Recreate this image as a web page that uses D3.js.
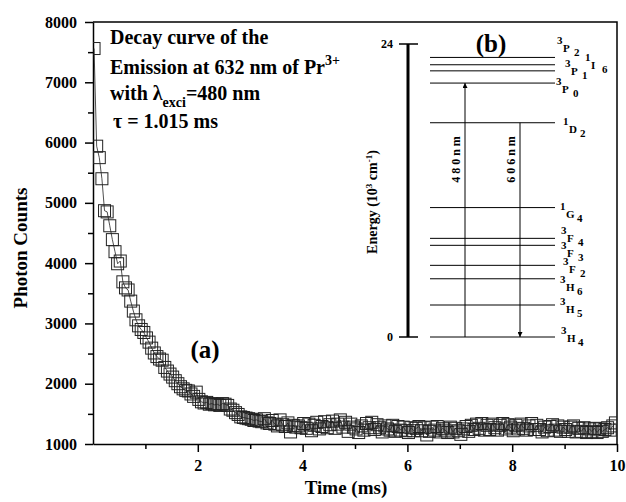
<!DOCTYPE html>
<html>
<head>
<meta charset="utf-8">
<script src="https://cdn.jsdelivr.net/npm/d3@7"></script>
<style>
    body { margin: 0; background: #fff; }
    svg { display: block; font-family: 'Liberation Serif', 'Times New Roman', serif; font-weight: bold; }
</style>
</head>
<body>
<svg id="chart"></svg>
<script>
// decay curve, one point every 0.05 ms
const timeMs = [
    0.02, 0.07, 0.12, 0.17, 0.22, 0.27, 0.32, 0.37, 0.42, 0.47,
    0.52, 0.57, 0.62, 0.67, 0.72, 0.77, 0.82, 0.87, 0.92, 0.97,
    1.02, 1.07, 1.12, 1.17, 1.22, 1.27, 1.32, 1.37, 1.42, 1.47,
    1.52, 1.57, 1.62, 1.67, 1.72, 1.77, 1.82, 1.87, 1.92, 1.97,
    2.02, 2.07, 2.12, 2.17, 2.22, 2.27, 2.32, 2.37, 2.42, 2.47,
    2.52, 2.57, 2.62, 2.67, 2.72, 2.77, 2.82, 2.87, 2.92, 2.97,
    3.02, 3.07, 3.12, 3.17, 3.22, 3.27, 3.32, 3.37, 3.42, 3.47,
    3.52, 3.57, 3.62, 3.67, 3.72, 3.77, 3.82, 3.87, 3.92, 3.97,
    4.02, 4.07, 4.12, 4.17, 4.22, 4.27, 4.32, 4.37, 4.42, 4.47,
    4.52, 4.57, 4.62, 4.67, 4.72, 4.77, 4.82, 4.87, 4.92, 4.97,
    5.02, 5.07, 5.12, 5.17, 5.22, 5.27, 5.32, 5.37, 5.42, 5.47,
    5.52, 5.57, 5.62, 5.67, 5.72, 5.77, 5.82, 5.87, 5.92, 5.97,
    6.02, 6.07, 6.12, 6.17, 6.22, 6.27, 6.32, 6.37, 6.42, 6.47,
    6.52, 6.57, 6.62, 6.67, 6.72, 6.77, 6.82, 6.87, 6.92, 6.97,
    7.02, 7.07, 7.12, 7.17, 7.22, 7.27, 7.32, 7.37, 7.42, 7.47,
    7.52, 7.57, 7.62, 7.67, 7.72, 7.77, 7.82, 7.87, 7.92, 7.97,
    8.02, 8.07, 8.12, 8.17, 8.22, 8.27, 8.32, 8.37, 8.42, 8.47,
    8.52, 8.57, 8.62, 8.67, 8.72, 8.77, 8.82, 8.87, 8.92, 8.97,
    9.02, 9.07, 9.12, 9.17, 9.22, 9.27, 9.32, 9.37, 9.42, 9.47,
    9.52, 9.57, 9.62, 9.67, 9.72, 9.77, 9.82, 9.87, 9.92, 9.97
]
const photonCounts = [
    7560, 5940, 5750, 5400, 4870, 4850, 4620, 4390, 4190, 3990,
    4035, 3690, 3590, 3555, 3370, 3205, 3060, 2960, 2900, 2850,
    2760, 2690, 2590, 2510, 2450, 2410, 2390, 2270, 2210, 2160,
    2110, 2050, 2000, 1950, 1915, 1890, 1880, 1830, 1790, 1860,
    1740, 1700, 1680, 1690, 1660, 1670, 1650, 1660, 1640, 1670,
    1660, 1640, 1580, 1560, 1520, 1490, 1450, 1440, 1430, 1420,
    1410, 1390, 1400, 1380, 1370, 1420, 1350, 1340, 1390, 1330,
    1300, 1400, 1320, 1290, 1350, 1200, 1310, 1280, 1300, 1270,
    1340, 1260, 1330, 1220, 1310, 1360, 1250, 1290, 1370, 1270,
    1320, 1380, 1260, 1330, 1400, 1280, 1360, 1210, 1330, 1280,
    1250, 1190, 1300, 1230, 1340, 1270, 1360, 1240, 1320, 1270,
    1200, 1300, 1250, 1230, 1310, 1210, 1290, 1230, 1280, 1220,
    1190, 1270, 1220, 1260, 1290, 1220, 1270, 1150, 1210, 1280,
    1230, 1290, 1200, 1260, 1230, 1190, 1280, 1200, 1260, 1220,
    1160, 1250, 1290, 1210, 1310, 1240, 1330, 1260, 1340, 1230,
    1310, 1240, 1330, 1270, 1230, 1310, 1340, 1250, 1320, 1280,
    1220, 1310, 1250, 1330, 1260, 1230, 1300, 1340, 1240, 1310,
    1240, 1200, 1280, 1220, 1290, 1320, 1230, 1300, 1210, 1280,
    1240, 1210, 1280, 1300, 1200, 1260, 1210, 1270, 1190, 1250,
    1210, 1260, 1190, 1250, 1210, 1240, 1270, 1230, 1300, 1350
]
const xTicks = [2, 4, 6, 8, 10]
const xMinorTicks = [1, 3, 5, 7, 9]
const yTicks = [1000, 2000, 3000, 4000, 5000, 6000, 7000, 8000]
const yMinorTicks = [1500, 2500, 3500, 4500, 5500, 6500, 7500]

// inset (b): Pr3+ energy levels, 10^3 cm-1
const levelEnergy = [0, 2.62, 4.77, 5.87, 7.51, 8.08, 10.6, 17.55, 20.8, 21.8, 22.3, 22.9]
const levelSpin = ['3', '3', '3', '3', '3', '3', '1', '1', '3', '3', '1', '3']
const levelTerm = ['H', 'H', 'H', 'F', 'F', 'F', 'G', 'D', 'P', 'P', 'I', 'P']
const levelJ = ['4', '5', '6', '2', '3', '4', '4', '2', '0', '1', '6', '2']
const energyTicks = [0, 24]
const transitionFrom = [0, 17.55]
const transitionTo = [20.8, 0]
const transitionLabels = ['480nm', '606nm']

// hand placement of the crowded level labels
const labelX = [561, 560, 560, 563, 561, 561, 560, 563, 556, 565, 585, 557]
const labelDy = [5, 8, 12, 8, 12, 4, 10, 10, 10, 4, 4, -5]
const transitionX = [465, 520]

const width = 626
const height = 502
const plotLeft = 93, plotRight = 617, plotTop = 22, plotBottom = 444

const svg = d3.select('#chart')
    .attr('width', width)
    .attr('height', height)

const x = d3.scaleLinear().domain([0, 10]).range([plotLeft, plotRight])
const y = d3.scaleLinear().domain([1000, 8000]).range([plotBottom, plotTop])

function styleAxis(g, size) {
    g.attr('font-family', null).attr('font-size', size)
    g.selectAll('line').attr('stroke', '#000').attr('stroke-width', 1.5)
    g.selectAll('path').attr('stroke', '#000').attr('stroke-width', 1.5)
    g.selectAll('text').attr('fill', '#000')
}

function drawAxes() {
    svg.append('g')
        .attr('transform', `translate(0,${plotBottom})`)
        .call(d3.axisBottom(x).tickValues(xTicks).tickSize(8).tickPadding(8).tickSizeOuter(0))
        .call(g => styleAxis(g, 16))

    svg.append('g')
        .attr('transform', `translate(0,${plotBottom})`)
        .call(d3.axisBottom(x).tickValues(xMinorTicks).tickSize(5).tickFormat(''))
        .call(g => g.select('.domain').remove())
        .call(g => styleAxis(g, 16))

    svg.append('g')
        .attr('transform', `translate(${plotLeft},0)`)
        .call(d3.axisLeft(y).tickValues(yTicks).tickFormat(d3.format('d'))
            .tickSize(8).tickPadding(8).tickSizeOuter(0))
        .call(g => styleAxis(g, 16))

    svg.append('g')
        .attr('transform', `translate(${plotLeft},0)`)
        .call(d3.axisLeft(y).tickValues(yMinorTicks).tickSize(5).tickFormat(''))
        .call(g => g.select('.domain').remove())
        .call(g => styleAxis(g, 16))

    // frame top and right
    svg.append('path')
        .attr('d', `M${plotLeft},${plotTop}H${plotRight}V${plotBottom}`)
        .attr('fill', 'none')
        .attr('stroke', '#000')
        .attr('stroke-width', 1.5)

    svg.append('text')
        .attr('x', 346)
        .attr('y', 494)
        .attr('text-anchor', 'middle')
        .attr('font-size', 19)
        .text('Time (ms)')

    svg.append('text')
        .attr('transform', 'translate(27,248) rotate(-90)')
        .attr('text-anchor', 'middle')
        .attr('font-size', 19)
        .text('Photon Counts')
}

function drawDecay() {
    svg.append('clipPath')
        .attr('id', 'plot-clip')
        .append('rect')
        .attr('x', plotLeft)
        .attr('y', plotTop)
        .attr('width', plotRight - plotLeft)
        .attr('height', plotBottom - plotTop)

    const points = timeMs.map((t, i) => [t, photonCounts[i]])
    const plot = svg.append('g').attr('clip-path', 'url(#plot-clip)')

    const line = d3.line()
        .x(d => x(d[0]))
        .y(d => y(d[1]))

    plot.append('path')
        .datum(points)
        .attr('d', line)
        .attr('fill', 'none')
        .attr('stroke', '#222')
        .attr('stroke-width', 0.8)

    plot.selectAll('.pt')
        .data(points)
        .enter().append('rect')
        .attr('class', 'pt')
        .attr('x', d => x(d[0]) - 6)
        .attr('y', d => y(d[1]) - 6)
        .attr('width', 12)
        .attr('height', 12)
        .attr('fill', 'none')
        .attr('stroke', '#222')
        .attr('stroke-width', 1)
}

function drawNotes() {
    const note = svg.append('g').attr('font-size', 20)
    note.append('text').attr('x', 110).attr('y', 44).text('Decay curve of the')

    const l2 = note.append('text').attr('x', 110).attr('y', 74)
    l2.append('tspan').text('Emission at 632 nm of Pr')
    l2.append('tspan').attr('font-size', 14).attr('dy', -9).text('3+')

    const l3 = note.append('text').attr('x', 110).attr('y', 100)
    l3.append('tspan').text('with λ')
    l3.append('tspan').attr('font-size', 14).attr('dy', 7).text('exci')
    l3.append('tspan').attr('dy', -7).text('=480 nm')

    note.append('text').attr('x', 113).attr('y', 128).text('τ = 1.015 ms')

    svg.append('text')
        .attr('x', 205).attr('y', 358)
        .attr('text-anchor', 'middle')
        .attr('font-size', 25)
        .text('(a)')
}

function drawInset() {
    const e = d3.scaleLinear().domain([0, 24]).range([337, 44])
    const g = svg.append('g').attr('font-size', 12)

    g.append('line')
        .attr('x1', 408).attr('x2', 408)
        .attr('y1', e(0)).attr('y2', e(24))
        .attr('stroke', '#000').attr('stroke-width', 3)

    g.selectAll('.etick')
        .data(energyTicks)
        .enter().append('line')
        .attr('x1', 399).attr('x2', 418)
        .attr('y1', d => e(d)).attr('y2', d => e(d))
        .attr('stroke', '#000').attr('stroke-width', 1.5)

    g.selectAll('.elabel')
        .data(energyTicks)
        .enter().append('text')
        .attr('x', 393)
        .attr('y', d => e(d))
        .attr('dy', '0.35em')
        .attr('text-anchor', 'end')
        .text(d => d)

    const title = g.append('text')
        .attr('transform', 'translate(377,202) rotate(-90)')
        .attr('text-anchor', 'middle')
        .attr('font-size', 14)
    title.append('tspan').text('Energy (10')
    title.append('tspan').attr('font-size', 9).attr('dy', -5).text('3')
    title.append('tspan').attr('dy', 5).text(' cm')
    title.append('tspan').attr('font-size', 9).attr('dy', -5).text('-1')
    title.append('tspan').attr('dy', 5).text(')')

    g.selectAll('.level')
        .data(levelEnergy)
        .enter().append('line')
        .attr('x1', 430).attr('x2', 555)
        .attr('y1', d => e(d)).attr('y2', d => e(d))
        .attr('stroke', '#000').attr('stroke-width', 1)

    const labels = g.selectAll('.lvl')
        .data(levelEnergy)
        .enter().append('g')
        .attr('font-size', 11)
        .attr('transform', (d, i) => `translate(${labelX[i]},${e(d) + labelDy[i]})`)
    labels.append('text').attr('y', -8).text((d, i) => levelSpin[i])
    labels.append('text').attr('x', 6).text((d, i) => levelTerm[i])
    labels.append('text').attr('x', 17).attr('y', 4).text((d, i) => levelJ[i])

    svg.append('defs').append('marker')
        .attr('id', 'head')
        .attr('viewBox', '0 0 10 10')
        .attr('refX', 10).attr('refY', 5)
        .attr('markerWidth', 7).attr('markerHeight', 5)
        .attr('markerUnits', 'userSpaceOnUse')
        .attr('orient', 'auto')
        .append('path')
        .attr('d', 'M0,0L10,5L0,10Z')

    g.selectAll('.arrow')
        .data(transitionLabels)
        .enter().append('line')
        .attr('x1', (d, i) => transitionX[i]).attr('x2', (d, i) => transitionX[i])
        .attr('y1', (d, i) => e(transitionFrom[i]))
        .attr('y2', (d, i) => e(transitionTo[i]))
        .attr('stroke', '#000').attr('stroke-width', 1)
        .attr('marker-end', 'url(#head)')

    g.selectAll('.tlabel')
        .data(transitionLabels)
        .enter().append('text')
        .attr('transform', (d, i) => `translate(${transitionX[i] - 5},158) rotate(-90)`)
        .attr('text-anchor', 'middle')
        .attr('letter-spacing', 3)
        .text(d => d)

    svg.append('text')
        .attr('x', 491).attr('y', 52)
        .attr('text-anchor', 'middle')
        .attr('font-size', 25)
        .text('(b)')
}

drawAxes()
drawDecay()
drawNotes()
drawInset()
</script>
</body>
</html>
